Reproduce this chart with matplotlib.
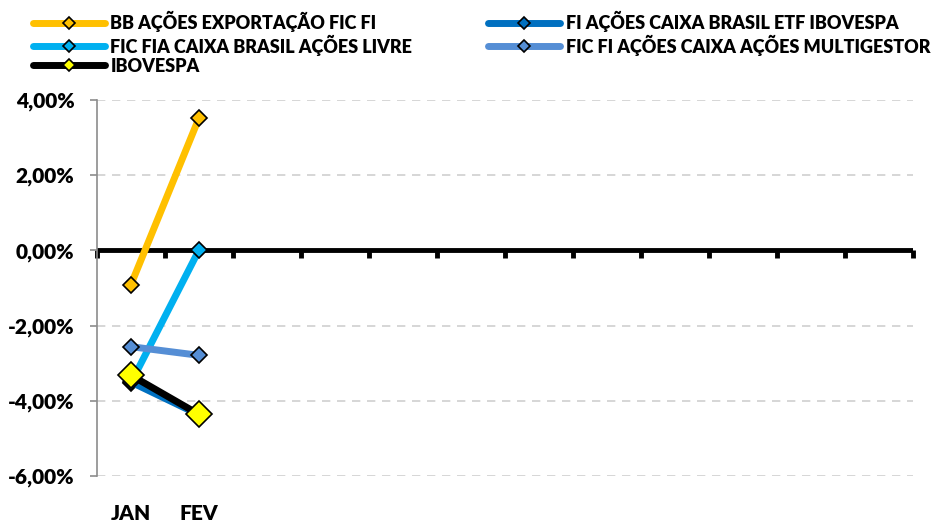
import matplotlib
matplotlib.use("Agg")
import matplotlib.pyplot as plt
from matplotlib.ticker import FuncFormatter

months = ["JAN", "FEV", "", "", "", "", "", "", "", "", "", ""]
series_names = [
    "BB AÇÕES EXPORTAÇÃO FIC FI",
    "FIC FIA CAIXA BRASIL AÇÕES LIVRE",
    "IBOVESPA",
    "FI AÇÕES CAIXA BRASIL ETF IBOVESPA",
    "FIC FI AÇÕES CAIXA AÇÕES MULTIGESTOR",
]
bb_export = [-0.92, 3.51]
caixa_livre = [-3.53, 0.00]
ibovespa = [-3.32, -4.36]
caixa_etf = [-3.50, -4.37]
multigestor = [-2.56, -2.79]

plt.rcParams['font.family'] = ['Lato', 'DejaVu Sans']
plt.rcParams['font.weight'] = 'heavy'

fig = plt.figure(figsize=(9.4, 5.21), dpi=100)
ax = fig.add_axes([0.103, 0.0864, 0.868, 0.7216])

x = list(range(len(months)))
n = len(bb_export)

# (values, line colour, marker face, marker size, z)
styles = [
    (bb_export, '#FFC000', '#FFC000', 8, 3),
    (caixa_livre, '#00B0F0', '#00B0F0', 8, 4),
    (ibovespa, '#000000', '#FFFF00', 13, 6),
    (caixa_etf, '#0070C0', '#0070C0', 8, 5),
    (multigestor, '#558ED5', '#558ED5', 8, 4),
]
handles = []
for (vals, col, mfc, ms, z), name in zip(styles, series_names):
    h, = ax.plot(x[:n], vals, color=col, lw=5, marker='D', ms=ms,
                 mfc=mfc, mec='black', mew=1.2, zorder=z, label=name,
                 solid_capstyle='round')
    handles.append(h)

ax.set_xlim(-0.5, len(months) - 0.5)
ax.set_ylim(-6, 4)
ax.set_yticks([-6, -4, -2, 0, 2, 4])
ax.yaxis.set_major_formatter(FuncFormatter(lambda v, p: f"{v:.2f}%".replace('.', ',')))
ax.grid(axis='y', color='#D0D0D0', ls=(0, (5, 4)), lw=1.2)
ax.set_axisbelow(True)

for s in ['top', 'right', 'bottom']:
    ax.spines[s].set_visible(False)
ax.spines['left'].set_color('#8C8C8C')
ax.spines['left'].set_linewidth(1.2)
ax.tick_params(axis='y', colors='#8C8C8C', length=5, width=1.2, labelsize=15,
               labelcolor='black', pad=11)

# month labels at the bottom
ax.set_xticks(x)
ax.set_xticklabels(months, fontsize=15, fontweight='heavy')
ax.tick_params(axis='x', length=0, pad=20)

# category axis crossing at zero
ax.axhline(0, color='black', lw=3.5, zorder=2)
frac0 = (0 - (-6)) / (4 - (-6))
sec = ax.secondary_xaxis(frac0)
sec.set_xticks([i - 0.5 for i in range(len(months) + 1)])
sec.set_xticklabels([])
sec.spines['bottom'].set_visible(False)
sec.spines['top'].set_visible(False)
sec.tick_params(axis='x', direction='in', length=6, width=3.5, color='black')

leg = fig.legend(handles=handles, loc='upper left', bbox_to_anchor=(0.0175, 1.01),
                 ncol=2, frameon=False, handlelength=4.0,
                 handletextpad=0.3, columnspacing=4.2, labelspacing=0.12,
                 prop={'weight': 'heavy', 'size': 13})
for lh in leg.legend_handles:
    lh.set_markersize(6)
    lh.set_markeredgewidth(1.2)

fig.savefig('out.png', dpi=100)
